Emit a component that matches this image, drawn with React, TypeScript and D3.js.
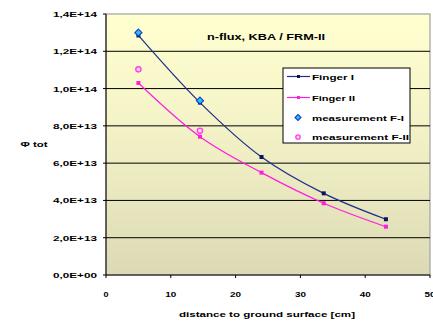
import React from "react";
import * as d3 from "d3";

const distF1 = [5, 14.5, 24, 33.6, 43.2];
const fingerI = [1.285e14, 0.925e14, 6.33e13, 4.38e13, 2.99e13];
const distF2 = [5, 14.5, 24, 33.6, 43.2];
const fingerII = [1.03e14, 0.742e14, 5.49e13, 3.85e13, 2.59e13];
const measDist = [5, 14.5];
const measF1 = [1.3e14, 0.935e14];
const measF2 = [1.103e14, 0.774e14];
const yTicks = [0, 2e13, 4e13, 6e13, 8e13, 1e14, 1.2e14, 1.4e14];
const yTickLabels = ["0,0E+00", "2,0E+13", "4,0E+13", "6,0E+13", "8,0E+13", "1,0E+14", "1,2E+14", "1,4E+14"];
const xTicks = [0, 10, 20, 30, 40, 50];
const legendLabels = ["Finger I", "Finger II", "measurement F-I", "measurement F-II"];

const W = 433;
const H = 323;
const L = 106, R = 430, T = 14, B = 275;
const FONT = "Liberation Sans, Arial, sans-serif";

type TProps = {
  x: number;
  y: number;
  w?: number;
  anchor?: "start" | "middle" | "end";
  size?: number;
  children: React.ReactNode;
};

// Small bold label stretched to a fixed width
function Label({ x, y, w, anchor = "start", size = 8, children }: TProps) {
  return (
    <text
      x={x}
      y={y}
      fontSize={size}
      fontFamily={FONT}
      fontWeight="bold"
      textAnchor={anchor}
      fill="#000"
      textLength={w}
      lengthAdjust={w ? "spacingAndGlyphs" : undefined}
    >
      {children}
    </text>
  );
}

export default function App() {
  const x = d3.scaleLinear().domain([0, 50]).range([L, R]);
  const y = d3.scaleLinear().domain([0, 1.4e14]).range([B, T]);
  const line = d3
    .line<[number, number]>()
    .x((d) => x(d[0]))
    .y((d) => y(d[1]))
    .curve(d3.curveCatmullRom.alpha(0.5));
  const p1 = distF1.map((d, i) => [d, fingerI[i]] as [number, number]);
  const p2 = distF2.map((d, i) => [d, fingerII[i]] as [number, number]);

  const legendX = 283, legendY = 68;
  const rowY = [76.5, 97.5, 117.5, 137];
  const legendW = [42, 43, 92, 97];

  return (
    <svg width={W} height={H} style={{ position: "absolute", left: 0, top: 0 }}>
      <defs>
        <linearGradient id="bg" x1="0" y1="0" x2="0" y2="1">
          <stop offset="0" stopColor="#ffffd0" />
          <stop offset="0.4" stopColor="#f5f4c8" />
          <stop offset="1" stopColor="#dbdab5" />
        </linearGradient>
      </defs>
      <rect x={0} y={0} width={W} height={H} fill="#ffffff" />
      <rect x={L} y={T} width={R - L} height={B - T} fill="url(#bg)" stroke="#a0a0a0" strokeWidth={1.2} />
      {yTicks.slice(1, -1).map((t) => (
        <line key={t} x1={L} x2={R} y1={y(t)} y2={y(t)} stroke="#000" strokeWidth={1} />
      ))}
      {/* axes */}
      <line x1={L} x2={L} y1={T} y2={B} stroke="#000" strokeWidth={1} />
      <line x1={L} x2={R} y1={B} y2={B} stroke="#000" strokeWidth={1} />
      {yTicks.map((t, i) => (
        <g key={t}>
          <line x1={L - 3} x2={L} y1={y(t)} y2={y(t)} stroke="#000" />
          <Label x={97} y={y(t) + 3} w={44} anchor="end">
            {yTickLabels[i]}
          </Label>
        </g>
      ))}
      {xTicks.map((t) => (
        <g key={t}>
          <line x1={x(t)} x2={x(t)} y1={B} y2={B + 3} stroke="#000" />
          <Label x={x(t)} y={297} w={t === 0 ? 5 : 11} anchor="middle">
            {t}
          </Label>
        </g>
      ))}
      <Label x={267} y={317} w={176} anchor="middle">
        distance to ground surface [cm]
      </Label>
      <Label x={34} y={147} w={27} anchor="middle">
        Φ tot
      </Label>
      <Label x={266} y={40} w={118} anchor="middle" size={9}>
        n-flux, KBA / FRM-II
      </Label>

      {/* model curves */}
      <path d={line(p1) || ""} fill="none" stroke="#1f2d8a" strokeWidth={1.2} />
      <path d={line(p2) || ""} fill="none" stroke="#ff1ee0" strokeWidth={1.2} />
      {p1.map((d, i) => (
        <rect key={i} x={x(d[0]) - 2} y={y(d[1]) - 2} width={4} height={4} fill="#0a1560" />
      ))}
      {p2.map((d, i) => (
        <rect key={i} x={x(d[0]) - 2} y={y(d[1]) - 2} width={4} height={4} fill="#ff1ee0" />
      ))}
      {/* measurements */}
      {measDist.map((d, i) => (
        <g key={i}>
          <path
            d={`M${x(d)},${y(measF1[i]) - 3.5}L${x(d) + 3.5},${y(measF1[i])}L${x(d)},${y(measF1[i]) + 3.5}L${x(d) - 3.5},${y(measF1[i])}Z`}
            fill="#22c8f0"
            stroke="#1a3cc8"
            strokeWidth={1.2}
          />
          <circle cx={x(d)} cy={y(measF2[i])} r={2.6} fill="#ffd0f4" stroke="#ff40e8" strokeWidth={1.4} />
        </g>
      ))}

      {/* legend */}
      <rect x={legendX} y={legendY} width={127} height={75} fill="#ffffff" stroke="#000" strokeWidth={1} />
      {legendLabels.map((label, i) => {
        const cy = rowY[i];
        return (
          <g key={label}>
            {i === 0 && (
              <g>
                <line x1={287} x2={310} y1={cy} y2={cy} stroke="#1f2d8a" strokeWidth={1.2} />
                <rect x={297} y={cy - 1.5} width={3} height={3} fill="#0a1560" />
              </g>
            )}
            {i === 1 && (
              <g>
                <line x1={287} x2={310} y1={cy} y2={cy} stroke="#ff1ee0" strokeWidth={1.2} />
                <rect x={297} y={cy - 1.5} width={3} height={3} fill="#ff1ee0" />
              </g>
            )}
            {i === 2 && (
              <path
                d={`M298,${cy - 3}L301,${cy}L298,${cy + 3}L295,${cy}Z`}
                fill="#22c8f0"
                stroke="#1a3cc8"
                strokeWidth={1.1}
              />
            )}
            {i === 3 && <circle cx={298} cy={cy} r={2.2} fill="#ffd0f4" stroke="#ff40e8" strokeWidth={1.3} />}
            <Label x={312} y={cy + 3} w={legendW[i]}>
              {label}
            </Label>
          </g>
        );
      })}
    </svg>
  );
}
